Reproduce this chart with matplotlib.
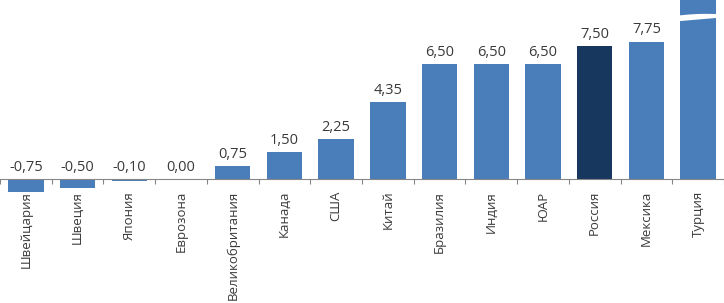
import numpy as np
import matplotlib
matplotlib.use("Agg")
import matplotlib.pyplot as plt

# policy rates, %
countries = ["Швейцария", "Швеция", "Япония", "Еврозона", "Великобритания",
             "Канада", "США", "Китай", "Бразилия", "Индия", "ЮАР",
             "Россия", "Мексика", "Турция"]
rates = [-0.75, -0.50, -0.10, 0.00, 0.75, 1.50, 2.25, 4.35, 6.50, 6.50, 6.50,
         7.50, 7.75, 24.00]
highlight = "Россия"

plt.rcParams['font.family'] = ['Open Sans', 'DejaVu Sans']

blue = "#4A7EBB"
navy = "#17375E"
grey = "#868686"
txt = "#3A3A3A"

fig = plt.figure(figsize=(7.24, 3.03), dpi=100)
ax = fig.add_axes([0, 0, 1, 1])

x = np.arange(len(countries))
colors = [navy if c == highlight else blue for c in countries]
ax.bar(x, rates, width=0.684, color=colors, zorder=2)

ax.set_xlim(-0.342, 13.418)
ymax = 10.1
ax.set_ylim(-7.0, ymax)

# value labels (skip the clipped bar)
for xi, v in zip(x, rates):
    if v > ymax:
        continue
    ax.annotate(f"{v:.2f}".replace('.', ','), (xi, max(v, 0)),
                xytext=(0, 3), textcoords="offset points",
                ha="center", va="bottom", fontsize=10.5, color=txt)

# break marker on the clipped bar
tall = [i for i, v in enumerate(rates) if v > ymax]
for i in tall:
    xs = np.linspace(i - 0.40, i + 0.40, 50)
    t = (xs - xs[0]) / (xs[-1] - xs[0])
    top = 9.25 + 0.08 * t + 0.05 * np.sin(np.pi * t)
    bot = top - 0.32 + 0.12 * t - 0.05 * np.sin(np.pi * t)
    ax.fill_between(xs, bot, top, color="white", zorder=3, linewidth=0)

for s in ["top", "right", "left"]:
    ax.spines[s].set_visible(False)
ax.spines["bottom"].set_position(("data", 0))
ax.spines["bottom"].set_color(grey)
ax.spines["bottom"].set_linewidth(0.8)
ax.set_yticks([])

ax.set_xticks(x)
ax.set_xticklabels(countries, rotation=90, fontsize=9.5, color=txt)
ax.tick_params(axis="x", which="major", length=0, pad=8.5)
ax.set_xticks(np.arange(-0.5, len(countries)), minor=True)
ax.tick_params(axis="x", which="minor", length=3.6, color=grey, width=0.8)

fig.savefig("out.png", dpi=100)
